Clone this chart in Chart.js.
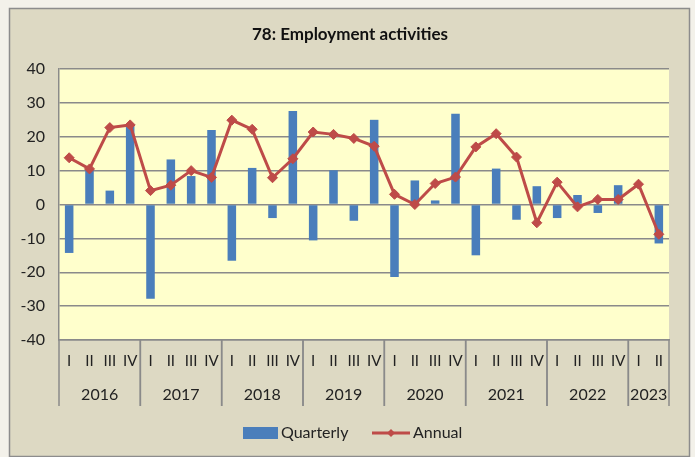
<!DOCTYPE html>
<html lang="en">
  <head>
    <meta charset="UTF-8" />
    <title>78: Employment activities</title>
    <script src="https://cdn.jsdelivr.net/npm/chart.js"></script>
    <style>
      html,
      body {
        margin: 0;
        padding: 0;
        background: #f3f1ea;
      }
      .chart-container {
        width: 695px;
        height: 457px;
      }
    </style>
  </head>
  <body>
    <div class="chart-container">
      <canvas id="employmentChart"></canvas>
    </div>

    <script>
      // chart data
      const years = ['2016', '2017', '2018', '2019', '2020', '2021', '2022', '2023'];
      const quartersPerYear = [4, 4, 4, 4, 4, 4, 4, 2];
      const quarterNames = ['I', 'II', 'III', 'IV'];
      const yTicks = [-40, -30, -20, -10, 0, 10, 20, 30, 40];

      const quarterly = [
        -14.3, 10.4, 4.1, 23.6,
        -27.8, 13.3, 8.4, 22.0,
        -16.6, 10.8, -4.0, 27.6,
        -10.6, 10.1, -4.8, 25.0,
        -21.4, 7.1, 1.2, 26.8,
        -15.0, 10.6, -4.5, 5.4,
        -4.0, 2.8, -2.5, 5.7,
        null, -11.5,
      ];
      const annual = [
        13.8, 10.5, 22.7, 23.5,
        4.1, 5.7, 10.0, 8.0,
        24.9, 22.2, 7.9, 13.5,
        21.4, 20.7, 19.5, 17.2,
        3.0, 0.0, 6.2, 8.1,
        17.0, 20.9, 14.0, -5.4,
        6.6, -0.7, 1.5, 1.5,
        6.0, -8.8,
      ];

      // one label per quarter, remember which year each belongs to
      const labels = [];
      const yearStart = [];
      years.forEach((y, i) => {
        yearStart.push(labels.length);
        for (let q = 0; q < quartersPerYear[i]; q++) labels.push(quarterNames[q]);
      });

      const FONT = 'Lato, "Open Sans", sans-serif';
      const BLUE = '#4a7ebb';
      const RED = '#be4b48';
      const GRID = '#8a8a8a';

      const framePlugin = {
        id: 'frame',
        beforeDraw(chart) {
          const { ctx, chartArea: a, width, height } = chart;
          ctx.save();
          ctx.fillStyle = '#f3f1ea';
          ctx.fillRect(0, 0, width, height);
          ctx.fillStyle = '#ddd9c3';
          ctx.fillRect(9, 8, 681, height - 9);
          ctx.strokeStyle = '#8c8c8c';
          ctx.lineWidth = 1.5;
          ctx.strokeRect(9.5, 8.5, 680, height - 9);
          ctx.fillStyle = '#ffffcc';
          ctx.fillRect(a.left, a.top, a.right - a.left, a.bottom - a.top);
          ctx.restore();
        },
        afterDraw(chart) {
          const { ctx, chartArea: a } = chart;
          const x = chart.scales.x;
          const half = (x.getPixelForValue(1) - x.getPixelForValue(0)) / 2;
          ctx.save();

          // title
          ctx.fillStyle = '#111';
          ctx.font = 'bold 17px ' + FONT;
          ctx.textAlign = 'center';
          ctx.textBaseline = 'middle';
          ctx.fillText('78: Employment activities', 350, 35);

          // year dividers and year labels under the quarter labels
          ctx.strokeStyle = GRID;
          ctx.lineWidth = 1.5;
          ctx.font = '16px ' + FONT;
          ctx.fillStyle = '#222';
          years.forEach((y, i) => {
            const first = yearStart[i];
            const last = first + quartersPerYear[i] - 1;
            const left = x.getPixelForValue(first) - half;
            const right = x.getPixelForValue(last) + half;
            ctx.beginPath();
            ctx.moveTo(left, a.bottom);
            ctx.lineTo(left, 406);
            ctx.moveTo(right, a.bottom);
            ctx.lineTo(right, 406);
            ctx.stroke();
            ctx.fillText(y, (left + right) / 2, 395);
          });

          // legend
          ctx.fillStyle = BLUE;
          ctx.fillRect(243, 427, 35, 12);
          ctx.fillStyle = '#222';
          ctx.textAlign = 'left';
          ctx.fillText('Quarterly', 281, 433);
          ctx.strokeStyle = RED;
          ctx.lineWidth = 3;
          ctx.beginPath();
          ctx.moveTo(372, 433);
          ctx.lineTo(410, 433);
          ctx.stroke();
          ctx.fillStyle = RED;
          ctx.beginPath();
          ctx.moveTo(391, 429);
          ctx.lineTo(395, 433);
          ctx.lineTo(391, 437);
          ctx.lineTo(387, 433);
          ctx.closePath();
          ctx.fill();
          ctx.fillStyle = '#222';
          ctx.fillText('Annual', 413, 433);
          ctx.restore();
        },
      };

      new Chart(document.getElementById('employmentChart'), {
        type: 'bar',
        data: {
          labels: labels,
          datasets: [
            {
              type: 'line',
              label: 'Annual',
              data: annual,
              borderColor: RED,
              backgroundColor: RED,
              borderWidth: 3,
              pointStyle: 'rectRot',
              pointRadius: 5,
              pointBorderWidth: 1,
              tension: 0,
              order: 0,
            },
            {
              label: 'Quarterly',
              data: quarterly,
              backgroundColor: BLUE,
              barPercentage: 0.42,
              categoryPercentage: 1,
              order: 1,
            },
          ],
        },
        options: {
          responsive: true,
          maintainAspectRatio: false,
          animation: false,
          events: [],
          layout: { padding: { left: 0, right: 26, top: 69, bottom: 0 } },
          plugins: {
            legend: { display: false },
            title: { display: false },
            tooltip: { enabled: false },
          },
          scales: {
            x: {
              offset: true,
              grid: { display: false, drawTicks: false },
              border: { display: true, color: GRID, width: 1.5 },
              ticks: {
                color: '#222',
                font: { family: FONT, size: 15 },
                padding: 12,
                maxRotation: 0,
                autoSkip: false,
              },
              afterFit(scale) {
                scale.height = 117;
              },
            },
            y: {
              min: -40,
              max: 40,
              afterBuildTicks(scale) {
                scale.ticks = yTicks.map((v) => ({ value: v }));
              },
              grid: { color: GRID, lineWidth: 1.5, drawTicks: false },
              border: { display: true, color: GRID, width: 1.5 },
              ticks: {
                color: '#222',
                font: { family: FONT, size: 16 },
                padding: 14,
              },
              afterFit(scale) {
                scale.width = 59;
              },
            },
          },
        },
        plugins: [framePlugin],
      });
    </script>
  </body>
</html>
